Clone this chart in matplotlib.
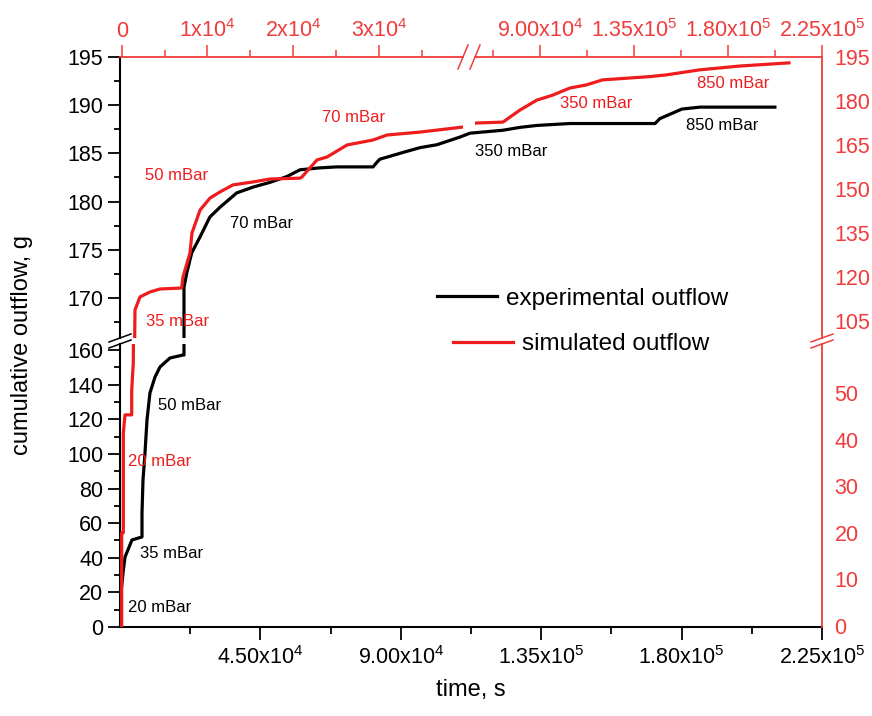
import matplotlib
matplotlib.use('Agg')
import matplotlib.pyplot as plt
from matplotlib.lines import Line2D
from matplotlib.ticker import FixedLocator, NullLocator

plt.rcParams['font.family'] = ['Liberation Sans', 'DejaVu Sans']
plt.rcParams['mathtext.default'] = 'regular'

# experimental outflow, bottom (time) / left (g) axes
exp_time = [160, 160, 960, 1600, 3850, 7050, 7050, 7370, 8010, 8650, 9600, 11220,
            12820, 16030, 20190, 20510, 20510, 21400, 23000, 25600, 28800, 32000,
            37400, 42600, 48100, 53500, 57700, 64100, 69500, 81100, 82400, 83300,
            86500, 90700, 96200, 101600, 109000, 112200, 122700, 128200, 133600,
            144200, 171500, 173000, 180100, 185900, 209900]
exp_flow = [0, 16.8, 31.2, 40.4, 50.3, 52.0, 65.8, 84.9, 100.5, 119.6, 135.2, 144.4,
            150.2, 155.4, 157.1, 157.1, 171.1, 172.6, 174.7, 176.3, 178.4, 179.4,
            180.9, 181.5, 182.0, 182.6, 183.3, 183.5, 183.6, 183.6, 184.1, 184.4,
            184.7, 185.1, 185.6, 185.9, 186.7, 187.1, 187.4, 187.7, 187.9,
            188.1, 188.1, 188.6, 189.6, 189.8, 189.8]

# simulated outflow, top (time, broken) / right (g, broken) axes
sim_time = [0, 0, 190, 190, 385, 1165, 1165, 1350, 1550, 2130, 3300, 4460, 6990,
            7140, 7960, 8190, 9130, 10290, 11460, 12970, 15300, 17280, 20780, 21010,
            22760, 23930, 26260, 29290, 30920, 34770, 39700,
            59970, 72360, 80470, 88570, 96200, 104300, 112400, 120000, 142400,
            150500, 166300, 185300, 209200]
sim_flow = [0, 20.0, 20.0, 41.4, 45.3, 45.3, 50.6, 56.4, 108.75, 113.2, 114.9, 115.9,
            116.25, 120.0, 128.2, 135.0, 142.8, 146.9, 149.0, 151.4, 152.4, 153.4,
            153.7, 154.1, 159.9, 160.9, 165.0, 166.7, 168.4, 169.4, 171.1,
            172.5, 172.8, 176.9, 180.3, 182.0, 184.4, 185.5, 187.2, 188.3,
            188.9, 190.6, 191.9, 193.0]

pressures = ['20', '35', '50', '70', '350', '850']

bottom_ticks = [45000, 90000, 135000, 180000, 225000]
bottom_labels = ['4.50x10$^{4}$', '9.00x10$^{4}$', '1.35x10$^{5}$', '1.80x10$^{5}$', '2.25x10$^{5}$']
top_left_ticks = [0, 10000, 20000, 30000]
top_left_labels = ['0', '1x10$^{4}$', '2x10$^{4}$', '3x10$^{4}$']
top_right_ticks = [90000, 135000, 180000, 225000]
top_right_labels = ['9.00x10$^{4}$', '1.35x10$^{5}$', '1.80x10$^{5}$', '2.25x10$^{5}$']
left_low_ticks = [0, 20, 40, 60, 80, 100, 120, 140, 160]
left_up_ticks = [170, 175, 180, 185, 190, 195]
right_low_ticks = [0, 10, 20, 30, 40, 50]
right_up_ticks = [105, 120, 135, 150, 165, 180, 195]

W, H = 872, 716
RED = '#ee1c1c'
RED_AX = '#f03c3c'


def px_box(x0, y0, x1, y1):
    return [x0 / W, 1 - y1 / H, (x1 - x0) / W, (y1 - y0) / H]


def px(x, y):
    return x / W, 1 - y / H


fig = plt.figure(figsize=(W / 100, H / 100), dpi=100)


def bare(ax):
    ax.set_facecolor('none')
    for s in ax.spines.values():
        s.set_visible(False)
    ax.tick_params(which='both', left=False, right=False, top=False, bottom=False,
                   labelleft=False, labelright=False, labeltop=False, labelbottom=False)
    return ax


# black: experimental
ax_bl = bare(fig.add_axes(px_box(120, 344, 822, 627)))
ax_bu = bare(fig.add_axes(px_box(120, 57, 822, 338)))
for ax in (ax_bl, ax_bu):
    ax.plot(exp_time, exp_flow, color='black', lw=2.3)
    ax.set_xlim(0, 225000)
    ax.spines['left'].set_visible(True)
    ax.spines['left'].set_linewidth(1.5)
    ax.tick_params(axis='y', which='both', left=True, labelleft=True, direction='out',
                   labelsize=15.5, width=1.3, pad=3)
    ax.tick_params(axis='y', which='major', length=9)
    ax.tick_params(axis='y', which='minor', length=4.5)

ax_bl.set_ylim(0, 163.47)
ax_bl.yaxis.set_major_locator(FixedLocator(left_low_ticks))
ax_bl.yaxis.set_minor_locator(FixedLocator([10, 30, 50, 70, 90, 110, 130, 150]))
ax_bl.spines['bottom'].set_visible(True)
ax_bl.spines['bottom'].set_linewidth(1.5)
ax_bl.set_xticks(bottom_ticks)
ax_bl.set_xticklabels(bottom_labels)
ax_bl.xaxis.set_minor_locator(FixedLocator([22500, 67500, 112500, 157500, 202500]))
ax_bl.tick_params(axis='x', which='both', bottom=True, labelbottom=True, direction='out',
                  labelsize=15.5, width=1.3, pad=5)
ax_bl.tick_params(axis='x', which='major', length=9)
ax_bl.tick_params(axis='x', which='minor', length=5)

ax_bu.set_ylim(165.85, 195)
ax_bu.yaxis.set_major_locator(FixedLocator(left_up_ticks))
ax_bu.yaxis.set_minor_locator(FixedLocator([167.5, 172.5, 177.5, 182.5, 187.5, 192.5]))
ax_bu.xaxis.set_major_locator(NullLocator())

# red: simulated
ax_rll = bare(fig.add_axes(px_box(120, 344, 463, 627)))
ax_rul = bare(fig.add_axes(px_box(120, 57, 463, 338)))
ax_rur = bare(fig.add_axes(px_box(475, 57, 822, 338)))
ax_rlr = bare(fig.add_axes(px_box(475, 344, 822, 627)))
for ax in (ax_rll, ax_rul, ax_rur, ax_rlr):
    ax.plot(sim_time, sim_flow, color=RED, lw=2.3)
for ax in (ax_rll, ax_rul):
    ax.set_xlim(-198, 39780)
for ax in (ax_rur, ax_rlr):
    ax.set_xlim(59000, 225000)
for ax in (ax_rul, ax_rur):
    ax.set_ylim(99.2, 195)
for ax in (ax_rll, ax_rlr):
    ax.set_ylim(-0.2, 60.5)

for ax, ticks, labels, minors in ((ax_rul, top_left_ticks, top_left_labels, [5000, 15000, 25000, 35000]),
                                  (ax_rur, top_right_ticks, top_right_labels, [67500, 112500, 157500, 202500])):
    ax.spines['top'].set_visible(True)
    ax.spines['top'].set_color(RED_AX)
    ax.spines['top'].set_linewidth(1.3)
    ax.set_xticks(ticks)
    ax.set_xticklabels(labels)
    ax.xaxis.set_minor_locator(FixedLocator(minors))
    ax.tick_params(axis='x', which='both', top=True, labeltop=True, direction='out',
                   colors=RED_AX, labelcolor=RED_AX, labelsize=15.5, width=1.1, pad=2)
    ax.tick_params(axis='x', which='major', length=9)
    ax.tick_params(axis='x', which='minor', length=5)
ax_rul.yaxis.set_major_locator(NullLocator())

for ax, ticks in ((ax_rur, right_up_ticks), (ax_rlr, right_low_ticks)):
    ax.spines['right'].set_visible(True)
    ax.spines['right'].set_color(RED_AX)
    ax.spines['right'].set_linewidth(1.3)
    ax.set_yticks(ticks)
    ax.tick_params(axis='y', which='both', right=True, labelright=True, length=0,
                   labelcolor=RED_AX, labelsize=15.5, pad=9)
ax_rll.xaxis.set_major_locator(NullLocator())
ax_rlr.xaxis.set_major_locator(NullLocator())

# break marks
for (x0, y0, x1, y1), c in (((109, 342, 131, 334), 'black'), ((109, 348, 131, 340), 'black'),
                            ((811, 342, 833, 334), RED_AX), ((811, 348, 833, 340), RED_AX),
                            ((458, 69, 468, 45), RED_AX), ((470, 69, 480, 45), RED_AX)):
    (a, b), (c2, d) = px(x0, y0), px(x1, y1)
    fig.add_artist(Line2D([a, c2], [b, d], color=c, lw=1.1))

# pressure labels
exp_pos = [(128, 607), (140, 554), (158, 405), (230, 223), (475, 151), (686, 126)]
sim_pos = [(128, 462), (146, 322), (145, 175), (322, 117), (560, 103), (697, 84)]
for p, (x, y) in zip(pressures, exp_pos):
    fig.text(*px(x, y), p + ' mBar', color='black', fontsize=12, va='center', ha='left')
for p, (x, y) in zip(pressures, sim_pos):
    fig.text(*px(x, y), p + ' mBar', color=RED, fontsize=12, va='center', ha='left')

# legend
ax_bu.legend(handles=[Line2D([], [], color='black', lw=2.3)], labels=['experimental outflow'],
             loc='center left', bbox_to_anchor=px(437, 299), bbox_transform=fig.transFigure,
             frameon=False, fontsize=17.5, handlelength=2.45, handletextpad=0.4,
             borderpad=0, borderaxespad=0)
ax_rul.legend(handles=[Line2D([], [], color=RED, lw=2.3)], labels=['simulated outflow'],
              loc='center left', bbox_to_anchor=px(453, 344), bbox_transform=fig.transFigure,
              frameon=False, fontsize=17.5, handlelength=2.45, handletextpad=0.38,
              borderpad=0, borderaxespad=0)

fig.text(*px(22, 345), 'cumulative outflow, g', rotation=90, fontsize=17, va='center', ha='center')
fig.text(*px(471, 690), 'time, s', fontsize=17, va='center', ha='center')

fig.savefig('out.png', dpi=100)
